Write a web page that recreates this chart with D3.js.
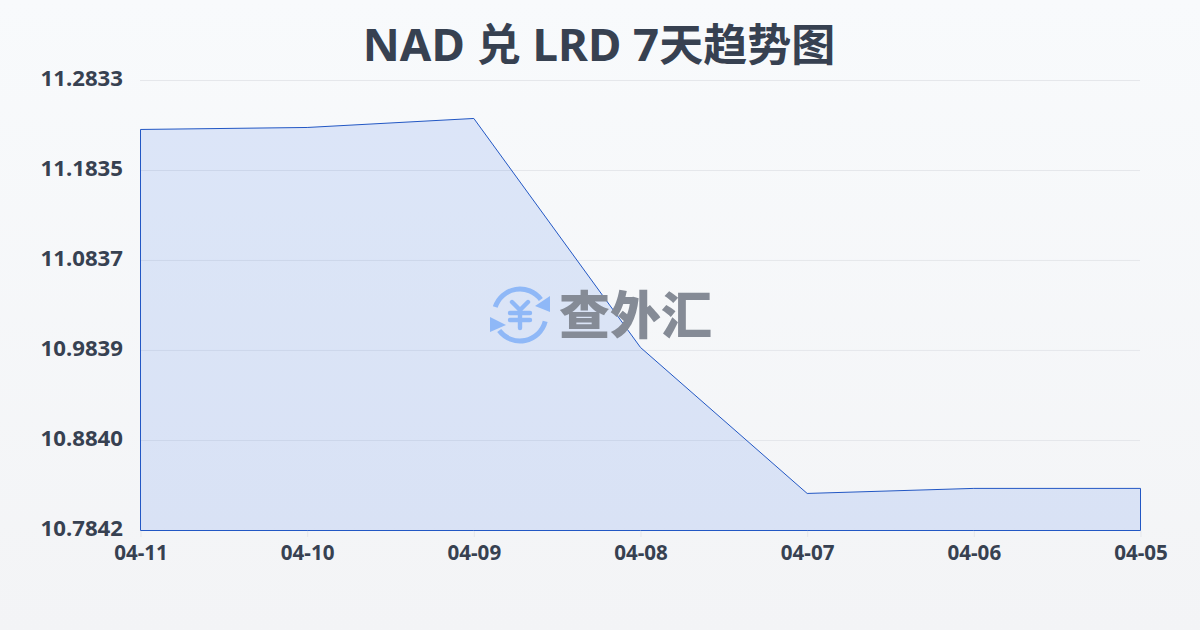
<!DOCTYPE html>
<html><head><meta charset="utf-8">
<script src="https://cdn.jsdelivr.net/npm/d3@7/dist/d3.min.js"></script>
<style>html,body{margin:0;padding:0;width:1200px;height:630px;overflow:hidden}svg{display:block}</style>
</head><body><svg id="c" width="1200" height="630" viewBox="0 0 1200 630"></svg>
<script>
const titleParts = [["NAD ",45.6],["兑",44],[" LRD 7",45.6],["天趋势图",44]];
const categories = ["04-11","04-10","04-09","04-08","04-07","04-06","04-05"];
const values = [11.2290,11.2312,11.2412,10.9872,10.8253,10.8309,10.8309];
const yTicks = [11.2833,11.1835,11.0837,10.9839,10.8840,10.7842];
const yMin = 10.7842, yMax = 11.2833;
const ink = "#374151", font = "'Noto Sans','Noto Sans CJK SC',sans-serif";

const svg = d3.select("#c");
const defs = svg.append("defs");
const bg = defs.append("linearGradient").attr("id","bg").attr("x1",0).attr("y1",0).attr("x2",0).attr("y2",1);
bg.append("stop").attr("offset",0).attr("stop-color","#f8fafc");
bg.append("stop").attr("offset",1).attr("stop-color","#f3f4f6");
svg.append("rect").attr("width",1200).attr("height",630).attr("fill","url(#bg)");

const x = d3.scalePoint().domain(categories).range([140.5,1140.5]);
const y = d3.scaleLinear().domain([yMin,yMax]).range([530.5,80.5]);

const title = svg.append("text").attr("x",599).attr("y",61).attr("text-anchor","middle")
  .attr("font-family",font).attr("font-weight",700).attr("fill",ink).attr("xml:space","preserve").style("white-space","pre");
title.selectAll("tspan").data(titleParts).join("tspan").attr("font-size",d=>d[1]).text(d=>d[0]);

const grid = svg.append("g");
grid.selectAll("line").data(yTicks.slice(0,-1)).join("line")
  .attr("x1",140).attr("x2",1140).attr("y1",d=>y(d)).attr("y2",d=>y(d))
  .attr("stroke","#e5e7eb").attr("stroke-width",1);

const area = d3.area().x((d,i)=>x(categories[i])).y0(y(yMin)).y1(d=>y(d));
svg.append("path").datum(values).attr("d",area)
  .attr("fill","#2563eb").attr("fill-opacity",0.13)
  .attr("stroke","#2257c4").attr("stroke-width",1);

const yAxis = d3.axisLeft(y).tickValues(yTicks).tickSize(0).tickPadding(0).tickFormat(d3.format(".4f"));
const gy = svg.append("g").attr("transform","translate(123,-2)").call(yAxis);
gy.select(".domain").remove();
gy.selectAll("text").attr("font-family",font).attr("font-weight",700).attr("font-size",22.2).attr("fill",ink);

const xAxis = d3.axisBottom(x).tickSize(6).tickPadding(8);
const gx = svg.append("g").attr("transform","translate(0,531)").call(xAxis);
gx.select(".domain").remove();
gx.selectAll("line").attr("stroke","#e5e7eb");
gx.selectAll("text").attr("font-family",font).attr("font-weight",700).attr("font-size",20.6).attr("fill",ink);

// watermark
const wm = svg.append("g");
const logo = wm.append("g").attr("transform","translate(520,315)").attr("fill","none").attr("stroke","#8fb8f7").attr("stroke-linecap","round");
const arc = d3.arc().innerRadius(26).outerRadius(26);
logo.append("path").attr("d",arc({startAngle:-1.26,endAngle:0.93})).attr("stroke-width",5);
logo.append("path").attr("d",arc({startAngle:1.82,endAngle:4.07})).attr("stroke-width",5);
logo.append("path").attr("d","M-8,-13 L0,-5 L8,-13 M-10,-2 H10 M-10,5 H10 M0,-5 V13").attr("stroke-width",4.4).attr("stroke-linejoin","round");
logo.append("path").attr("d","M30,-19 L30,-3 L15,-9 Z").attr("fill","#8fb8f7").attr("stroke","none");
logo.append("path").attr("d","M-30,2 L-30,17 L-14,10 Z").attr("fill","#8fb8f7").attr("stroke","none");
wm.append("text").attr("x",559).attr("y",334).attr("font-family","'Noto Sans CJK SC',sans-serif").attr("font-weight",900)
  .attr("font-size",51).attr("fill","#858b96").text("查外汇");
</script></body></html>
